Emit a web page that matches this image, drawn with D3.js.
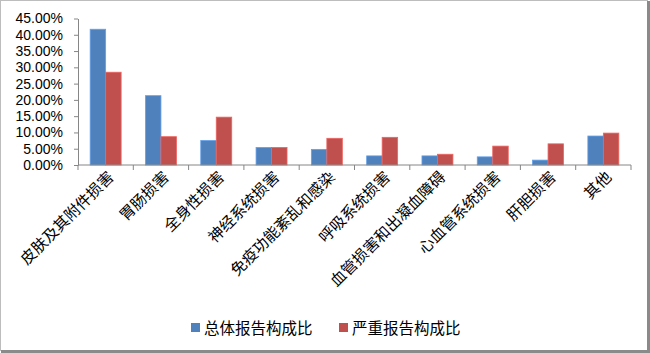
<!DOCTYPE html>
<html>
<head>
<meta charset="utf-8">
<script src="https://cdn.jsdelivr.net/npm/d3@7"></script>
<style>
  html, body { margin: 0; padding: 0; background: #fff; }
  svg { display: block; }
</style>
</head>
<body>
<div id="chart"></div>
<script>
const categories = ['皮肤及其附件损害', '胃肠损害', '全身性损害', '神经系统损害', '免疫功能紊乱和感染',
  '呼吸系统损害', '血管损害和出凝血障碍', '心血管系统损害', '肝胆损害', '其他'];
const seriesNames = ['总体报告构成比', '严重报告构成比'];
const totalShare  = [41.7, 21.3, 7.5, 5.4, 4.8, 2.8, 2.8, 2.5, 1.5, 8.9];
const severeShare = [28.5, 8.7, 14.7, 5.4, 8.2, 8.5, 3.3, 5.8, 6.5, 9.8];
const yTicks = [0, 5, 10, 15, 20, 25, 30, 35, 40, 45];
const colors = ['#4F81BD', '#C0504D'];

const width = 650, height = 353;
const margin = { top: 18.5, right: 19, bottom: 188, left: 78 };
const innerW = width - margin.left - margin.right;
const innerH = height - margin.top - margin.bottom;

const svg = d3.select('#chart').append('svg')
  .attr('width', width).attr('height', height);

// outer frame: light top/left, darker bottom/right
svg.append('rect')
  .attr('x', 0.5).attr('y', 0.5)
  .attr('width', width - 3).attr('height', height - 3)
  .attr('fill', '#fff').attr('stroke', '#bdbdbd');
svg.append('path')
  .attr('d', `M${width - 1.5},1 V${height - 1.5} H1`)
  .attr('fill', 'none').attr('stroke', '#8a8a8a').attr('stroke-width', 3);

const g = svg.append('g').attr('transform', `translate(${margin.left},${margin.top})`);

const x0 = d3.scaleBand().domain(categories).range([0, innerW]).padding(0);
const x1 = d3.scaleBand().domain(seriesNames)
  .range([x0.bandwidth() * 0.22, x0.bandwidth() * 0.78]);
const y = d3.scaleLinear().domain([0, 45]).range([innerH, 0]);

// bars
const rows = categories.map((c, i) => ({ cat: c, vals: [totalShare[i], severeShare[i]] }));
const groups = g.selectAll('.grp').data(rows).enter().append('g')
  .attr('transform', d => `translate(${x0(d.cat)},0)`);
groups.selectAll('rect')
  .data(d => d.vals.map((v, k) => ({ key: seriesNames[k], v, k })))
  .enter().append('rect')
  .attr('x', d => x1(d.key))
  .attr('y', d => y(d.v))
  .attr('width', x1.bandwidth())
  .attr('height', d => innerH - y(d.v))
  .attr('fill', d => colors[d.k])
  .attr('stroke', d => d3.color(colors[d.k]).brighter(0.6))
  .attr('stroke-width', 0.8);

// y axis
const yAxis = g.append('g')
  .call(d3.axisLeft(y).tickValues(yTicks).tickSize(4).tickSizeOuter(0)
    .tickFormat(d => d.toFixed(2) + '%'));
yAxis.select('.domain').attr('stroke', '#868686');
yAxis.selectAll('.tick line').attr('stroke', '#868686');
yAxis.selectAll('text')
  .attr('x', -15)
  .attr('fill', '#000')
  .attr('font-size', 14)
  .attr('font-family', '"Liberation Sans", Arial, sans-serif');

// x axis: baseline with ticks at category boundaries
const xg = g.append('g').attr('transform', `translate(0,${innerH})`);
xg.append('line').attr('x1', 0).attr('x2', innerW)
  .attr('stroke', '#868686');
const bounds = categories.map(c => x0(c)).concat([innerW]);
xg.selectAll('.bt').data(bounds).enter().append('line')
  .attr('x1', d => d).attr('x2', d => d)
  .attr('y1', 0).attr('y2', 5)
  .attr('stroke', '#868686');
xg.selectAll('.lbl').data(categories).enter().append('text')
  .attr('transform', d => `translate(${x0(d) + x0.bandwidth() / 2 + 9},${13}) rotate(-45)`)
  .attr('text-anchor', 'end')
  .attr('font-size', 15.5)
  .attr('font-family', '"Noto Sans CJK SC", sans-serif')
  .attr('fill', '#000')
  .text(d => d);

// legend
const legendX = [191, 339];
const lg = svg.append('g');
seriesNames.forEach((s, i) => {
  lg.append('rect')
    .attr('x', legendX[i]).attr('y', 323)
    .attr('width', 9).attr('height', 9)
    .attr('fill', colors[i]);
  lg.append('text')
    .attr('x', legendX[i] + 13).attr('y', 333.5)
    .attr('font-size', 15.5)
    .attr('font-family', '"Noto Sans CJK SC", sans-serif')
    .attr('fill', '#000')
    .text(s);
});
</script>
</body>
</html>
